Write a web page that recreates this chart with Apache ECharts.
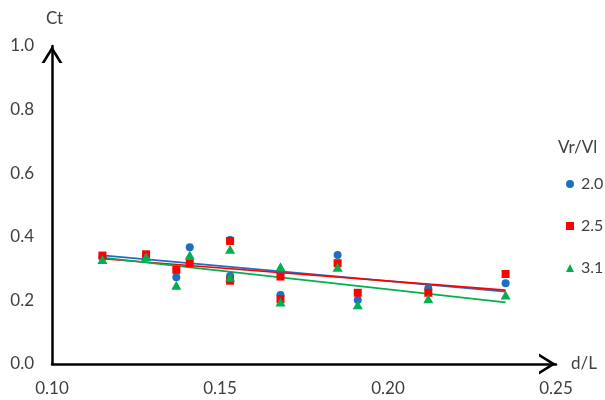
<!DOCTYPE html>
<html>
<head>
<meta charset="utf-8">
<script src="https://cdn.jsdelivr.net/npm/echarts@6/dist/echarts.min.js"></script>
<style>
  html, body { margin: 0; padding: 0; background: #fff; }
  #chart { width: 605px; height: 400px; }
</style>
</head>
<body>
<div id="chart"></div>
<script>
// Thrust coefficient Ct against relative depth d/L for three velocity ratios
const dL    = [0.115, 0.128, 0.137, 0.141, 0.153, 0.153, 0.168, 0.168, 0.185, 0.191, 0.212, 0.235];
const ct20  = [0.336, 0.340, 0.273, 0.367, 0.390, 0.277, 0.286, 0.217, 0.343, 0.201, 0.238, 0.254];
const ct25  = [0.341, 0.345, 0.296, 0.317, 0.387, 0.262, 0.275, 0.204, 0.317, 0.224, 0.224, 0.283];
const ct31  = [0.329, 0.337, 0.248, 0.343, 0.361, 0.273, 0.306, 0.195, 0.304, 0.186, 0.205, 0.217];
const ratioNames = ['2.0', '2.5', '3.1'];
const xTicks = [0.10, 0.15, 0.20, 0.25];
const yTicks = [0.0, 0.2, 0.4, 0.6, 0.8, 1.0];

const colors = ['#1F6FC0', '#FF0000', '#00B050'];
const symbols = ['circle', 'rect', 'triangle'];
const symbolSizes = [8, 8, [10, 9]];
const seriesValues = [ct20, ct25, ct31];

// Least-squares straight line through a set of points, spanning the x range
function trend(xs, ys) {
  const n = xs.length;
  const mx = xs.reduce((a, b) => a + b, 0) / n;
  const my = ys.reduce((a, b) => a + b, 0) / n;
  let sxy = 0, sxx = 0;
  for (let i = 0; i < n; i++) {
    sxy += (xs[i] - mx) * (ys[i] - my);
    sxx += (xs[i] - mx) * (xs[i] - mx);
  }
  const k = sxy / sxx;
  const b = my - k * mx;
  const x0 = Math.min(...xs), x1 = Math.max(...xs);
  return [[x0, k * x0 + b], [x1, k * x1 + b]];
}

// Open chevron arrow head, tip at the top of a 21 x 17 box
const chevron = 'path://M0,17 L10.5,0 L21,17 L17.94,17 L10.5,4.95 L3.06,17 Z';
const font = 'Lato, "Open Sans", sans-serif';
const textColor = '#404040';

const series = [];
seriesValues.forEach((vals, i) => {
  series.push({
    name: 'trend ' + ratioNames[i],
    type: 'line',
    data: trend(dL, vals),
    showSymbol: false,
    symbol: 'none',
    itemStyle: { color: colors[i] },
    lineStyle: { color: colors[i], width: 1.6 },
    z: 2,
    silent: true
  });
});
seriesValues.forEach((vals, i) => {
  series.push({
    name: ratioNames[i],
    type: 'scatter',
    data: dL.map((x, j) => [x, vals[j]]),
    symbol: symbols[i],
    symbolSize: symbolSizes[i],
    itemStyle: { color: colors[i], opacity: 1 },
    z: 3
  });
});

const chart = echarts.init(document.getElementById('chart'), null, { renderer: 'canvas' });
chart.setOption({
  animation: false,
  backgroundColor: '#fff',
  grid: { left: 52, right: 49, top: 46, bottom: 36, containLabel: false },
  title: {
    text: 'Vr/Vl',
    left: 553,
    top: 134,
    textStyle: { fontFamily: font, fontSize: 17, fontWeight: 'normal', color: textColor }
  },
  legend: {
    orient: 'vertical',
    left: 561,
    top: 171,
    itemWidth: 8,
    itemHeight: 8,
    itemGap: 26,
    data: ratioNames.map((n, i) => ({ name: n, icon: symbols[i] })),
    textStyle: { fontFamily: font, fontSize: 16, color: textColor, padding: [0, 0, 0, 2] }
  },
  xAxis: {
    type: 'value',
    min: xTicks[0],
    max: xTicks[xTicks.length - 1],
    interval: 0.05,
    name: 'd/L',
    nameLocation: 'end',
    nameGap: 15,
    nameTextStyle: { fontFamily: font, fontSize: 17, color: textColor, padding: [0, 0, 8, 0] },
    axisLine: {
      show: true,
      symbol: ['none', chevron],
      symbolSize: [21, 17],
      symbolOffset: [0, -8.5],
      lineStyle: { color: '#000', width: 2.5 }
    },
    axisTick: { show: false },
    splitLine: { show: false },
    axisLabel: {
      margin: 16,
      fontFamily: font,
      fontSize: 17,
      color: textColor,
      formatter: v => v.toFixed(2)
    }
  },
  yAxis: {
    type: 'value',
    min: yTicks[0],
    max: yTicks[yTicks.length - 1],
    interval: 0.2,
    name: 'Ct',
    nameLocation: 'end',
    nameGap: 19,
    nameTextStyle: { fontFamily: font, fontSize: 17, color: textColor, align: 'center', padding: [0, 0, 0, 5] },
    axisLine: {
      show: true,
      symbol: ['none', chevron],
      symbolSize: [21, 17],
      symbolOffset: [0, -8.5],
      lineStyle: { color: '#000', width: 2.5 }
    },
    axisTick: { show: false },
    splitLine: { show: false },
    axisLabel: {
      margin: 18,
      fontFamily: font,
      fontSize: 17,
      color: textColor,
      formatter: v => v.toFixed(1)
    }
  },
  series: series
});
</script>
</body>
</html>
